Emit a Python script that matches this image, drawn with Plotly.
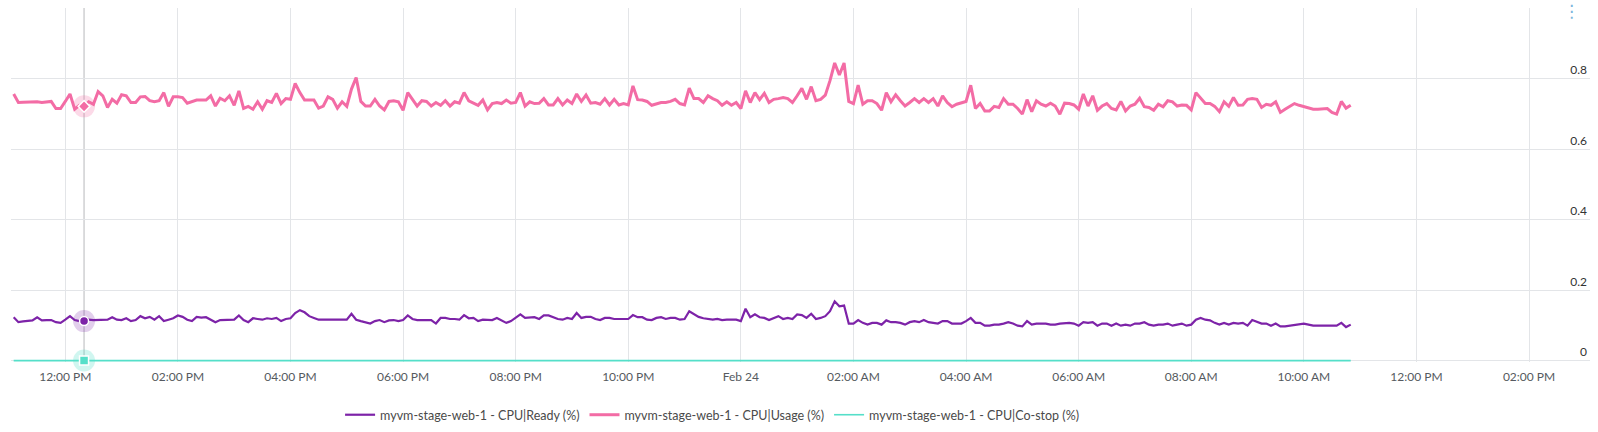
import pandas as pd
import plotly.graph_objects as go

# ---------------- data ----------------
START = "2023-02-23 11:05"
STEP = "5min"
HOVER_IDX = 15

ready = [
    0.123, 0.109, 0.111, 0.112, 0.114, 0.123, 0.114, 0.115, 0.115, 0.109,
    0.107, 0.116, 0.126, 0.115, 0.112, 0.112, 0.116, 0.115, 0.115, 0.115,
    0.116, 0.123, 0.116, 0.115, 0.120, 0.112, 0.115, 0.126, 0.120, 0.124,
    0.116, 0.126, 0.112, 0.116, 0.120, 0.128, 0.124, 0.116, 0.112, 0.124,
    0.122, 0.123, 0.116, 0.109, 0.115, 0.115, 0.115, 0.116, 0.128, 0.115,
    0.109, 0.120, 0.118, 0.116, 0.120, 0.118, 0.121, 0.112, 0.118, 0.120,
    0.135, 0.143, 0.137, 0.126, 0.121, 0.116, 0.116, 0.116, 0.116, 0.116,
    0.115, 0.116, 0.133, 0.116, 0.112, 0.109, 0.105, 0.112, 0.115, 0.109,
    0.114, 0.115, 0.112, 0.115, 0.128, 0.118, 0.115, 0.115, 0.116, 0.115,
    0.105, 0.121, 0.121, 0.118, 0.118, 0.116,
    0.129, 0.120, 0.121, 0.112, 0.116, 0.116, 0.115, 0.121, 0.115, 0.107,
    0.112, 0.121, 0.131, 0.121, 0.123, 0.123, 0.118, 0.128, 0.128, 0.123,
    0.118, 0.116, 0.121, 0.118, 0.135, 0.121, 0.124, 0.124, 0.118, 0.115,
    0.121, 0.121, 0.118, 0.118, 0.118, 0.118, 0.129, 0.123, 0.123, 0.116,
    0.115, 0.121, 0.123, 0.118, 0.121, 0.121, 0.116, 0.118, 0.140, 0.131,
    0.124, 0.120, 0.118, 0.116, 0.118, 0.115, 0.116, 0.115, 0.116, 0.112,
    0.147, 0.123, 0.131, 0.123, 0.121, 0.115, 0.121, 0.126, 0.118, 0.121,
    0.118, 0.131, 0.129, 0.121, 0.133, 0.118, 0.121, 0.126, 0.140, 0.168,
    0.154, 0.156, 0.105, 0.105, 0.115, 0.107, 0.102, 0.107, 0.107, 0.102,
    0.114, 0.109, 0.109, 0.107, 0.102, 0.109,
    0.112, 0.109, 0.115, 0.109, 0.107, 0.105, 0.112, 0.112, 0.105, 0.105,
    0.105, 0.112, 0.121, 0.107, 0.107, 0.099, 0.099, 0.102, 0.102, 0.105,
    0.109, 0.105, 0.099, 0.097, 0.112, 0.102, 0.105, 0.105, 0.105, 0.102,
    0.102, 0.105, 0.107, 0.107, 0.105, 0.099, 0.109, 0.107, 0.109, 0.099,
    0.105, 0.105, 0.099, 0.105, 0.099, 0.102, 0.099, 0.105, 0.105, 0.109,
    0.102, 0.099, 0.102, 0.102, 0.105, 0.099, 0.102, 0.105, 0.099, 0.102,
    0.116, 0.121, 0.116, 0.114, 0.107, 0.102, 0.107, 0.102, 0.107, 0.105,
    0.107, 0.099, 0.115, 0.109, 0.105, 0.105, 0.099, 0.105, 0.097, 0.097,
    0.099, 0.101, 0.102, 0.105, 0.102, 0.099, 0.099, 0.099, 0.099, 0.099,
    0.099, 0.107, 0.095, 0.102,
]

usage = [
    0.756, 0.732, 0.733, 0.734, 0.735, 0.734, 0.732, 0.734, 0.735, 0.715,
    0.715, 0.735, 0.756, 0.713, 0.724, 0.721, 0.734, 0.727, 0.763, 0.751,
    0.718, 0.741, 0.730, 0.754, 0.751, 0.732, 0.732, 0.748, 0.749, 0.737,
    0.734, 0.737, 0.760, 0.721, 0.748, 0.748, 0.746, 0.730, 0.734, 0.739,
    0.739, 0.739, 0.751, 0.722, 0.744, 0.737, 0.751, 0.724, 0.765, 0.715,
    0.721, 0.713, 0.734, 0.713, 0.737, 0.732, 0.758, 0.729, 0.743, 0.741,
    0.786, 0.760, 0.739, 0.739, 0.739, 0.716, 0.722, 0.748, 0.741, 0.716,
    0.734, 0.721, 0.770, 0.803, 0.735, 0.722, 0.722, 0.741, 0.722, 0.711,
    0.735, 0.737, 0.734, 0.710, 0.760, 0.741, 0.722, 0.737, 0.735, 0.722,
    0.732, 0.724, 0.737, 0.722, 0.734, 0.730,
    0.760, 0.737, 0.730, 0.724, 0.739, 0.711, 0.729, 0.732, 0.729, 0.739,
    0.730, 0.732, 0.760, 0.722, 0.734, 0.729, 0.730, 0.743, 0.725, 0.725,
    0.743, 0.725, 0.739, 0.729, 0.756, 0.735, 0.753, 0.730, 0.732, 0.727,
    0.743, 0.725, 0.741, 0.725, 0.729, 0.725, 0.779, 0.740, 0.739, 0.735,
    0.724, 0.727, 0.732, 0.732, 0.735, 0.741, 0.729, 0.725, 0.773, 0.743,
    0.743, 0.732, 0.751, 0.743, 0.737, 0.724, 0.734, 0.724, 0.732, 0.715,
    0.765, 0.732, 0.760, 0.740, 0.758, 0.732, 0.741, 0.743, 0.746, 0.743,
    0.732, 0.751, 0.772, 0.741, 0.777, 0.737, 0.741, 0.753, 0.794, 0.844,
    0.810, 0.844, 0.735, 0.729, 0.781, 0.727, 0.737, 0.737, 0.729, 0.710,
    0.760, 0.734, 0.754, 0.737, 0.722, 0.732,
    0.743, 0.732, 0.743, 0.732, 0.743, 0.722, 0.751, 0.732, 0.720, 0.727,
    0.730, 0.735, 0.781, 0.715, 0.729, 0.708, 0.708, 0.721, 0.718, 0.743,
    0.727, 0.727, 0.715, 0.699, 0.740, 0.706, 0.737, 0.727, 0.722, 0.730,
    0.722, 0.699, 0.730, 0.729, 0.725, 0.713, 0.756, 0.722, 0.751, 0.710,
    0.722, 0.729, 0.715, 0.711, 0.735, 0.708, 0.722, 0.727, 0.744, 0.720,
    0.718, 0.710, 0.727, 0.720, 0.737, 0.734, 0.722, 0.725, 0.724, 0.711,
    0.760, 0.744, 0.729, 0.729, 0.721, 0.706, 0.734, 0.721, 0.746, 0.724,
    0.725, 0.741, 0.743, 0.741, 0.718, 0.727, 0.724, 0.734, 0.704, 0.713,
    0.721, 0.729, 0.724, 0.721, 0.718, 0.713, 0.713, 0.713, 0.715, 0.704,
    0.699, 0.735, 0.716, 0.724,
]

# Co-stop reads as flat zero over the whole period
costop = [0.0] * len(usage)

series_names = [
    "myvm-stage-web-1 - CPU|Ready (%)",
    "myvm-stage-web-1 - CPU|Usage (%)",
    "myvm-stage-web-1 - CPU|Co-stop (%)",
]

tick_times = pd.date_range("2023-02-23 12:00", "2023-02-24 14:00", freq="2h")
tick_labels = [
    "12:00 PM", "02:00 PM", "04:00 PM", "06:00 PM", "08:00 PM", "10:00 PM",
    "Feb 24", "02:00 AM", "04:00 AM", "06:00 AM", "08:00 AM", "10:00 AM",
    "12:00 PM", "02:00 PM",
]
y_ticks = [0, 0.2, 0.4, 0.6, 0.8, 1.0]
y_labels = ["0", "0.2", "0.4", "0.6", "0.8", ""]

X_RANGE = ["2023-02-23 11:02:08", "2023-02-24 15:05:00"]
Y_RANGE = [-0.004, 1.0]

# ---------------- style ----------------
C_READY = "#7d23a8"
C_USAGE = "#f36ca5"
C_COSTOP = "#55dfc9"
GRID = "#e3e5e8"
FONT = "Lato, 'Open Sans', sans-serif"


def times(vals):
    return pd.date_range(START, periods=len(vals), freq=STEP)


fig = go.Figure()

ranks = {series_names[0]: 1, series_names[1]: 2, series_names[2]: 3}
for vals, name, color, width in [
    (costop, series_names[2], C_COSTOP, 1.6),
    (ready, series_names[0], C_READY, 2.2),
    (usage, series_names[1], C_USAGE, 3),
]:
    fig.add_trace(go.Scatter(
        x=times(vals), y=vals, name=name, mode="lines",
        line=dict(color=color, width=width), legendrank=ranks[name],
    ))

# hover state markers
hx = times(usage)[HOVER_IDX]
for vals, color, halo, sym, size in [
    (ready, C_READY, "rgba(125,35,168,0.22)", "circle", 9),
    (usage, C_USAGE, "rgba(243,108,165,0.25)", "diamond", 9),
    (costop, C_COSTOP, "rgba(85,223,201,0.28)", "square", 9),
]:
    fig.add_trace(go.Scatter(
        x=[hx], y=[vals[HOVER_IDX]], mode="markers", showlegend=False, hoverinfo="skip",
        marker=dict(size=22, color=halo, line=dict(width=0)), cliponaxis=False,
    ))
    fig.add_trace(go.Scatter(
        x=[hx], y=[vals[HOVER_IDX]], mode="markers", showlegend=False, hoverinfo="skip",
        marker=dict(size=size, color=color, symbol=sym, line=dict(width=1.5, color="white")),
        cliponaxis=False,
    ))

fig.add_shape(type="line", xref="x", yref="paper", x0=hx, x1=hx, y0=0, y1=1,
              line=dict(color="#cfd0d2", width=1.5), layer="below")

# menu button background + icon in the top-right corner
fig.add_shape(type="rect", xref="paper", yref="paper", x0=0.9797, x1=1.0, y0=0.972, y1=1.03,
              fillcolor="white", line=dict(width=0), layer="above")
fig.add_annotation(text="⋮", xref="paper", yref="paper", x=0.9886, y=0.992,
                   showarrow=False, font=dict(size=17, color="#79b4dc", family="DejaVu Sans"),
                   xanchor="center", yanchor="middle")

fig.update_layout(
    width=1598, height=432,
    margin=dict(l=11, r=8, t=8, b=70, autoexpand=False),
    paper_bgcolor="white", plot_bgcolor="white",
    font=dict(family=FONT, size=12, color="#555a60"),
    showlegend=True,
    legend=dict(orientation="h", x=0.444, xanchor="center", y=-0.15, yanchor="middle",
                font=dict(size=12.5, color="#4a4a4a", family=FONT), traceorder="normal",
                itemwidth=30, bgcolor="rgba(0,0,0,0)"),
    xaxis=dict(range=X_RANGE, type="date", tickvals=tick_times, ticktext=tick_labels,
               showgrid=True, gridcolor=GRID, gridwidth=1, zeroline=False, showline=False,
               ticks="outside", ticklen=4, tickcolor="rgba(0,0,0,0)",
               tickfont=dict(size=12, color="#555a60")),
    yaxis=dict(range=Y_RANGE, side="right", tickvals=y_ticks, ticktext=y_labels,
               ticklabelposition="inside top", showgrid=True, gridcolor=GRID, gridwidth=1,
               zeroline=False, showline=False, tickfont=dict(size=12, color="#333")),
)

fig.write_html("out.html")
